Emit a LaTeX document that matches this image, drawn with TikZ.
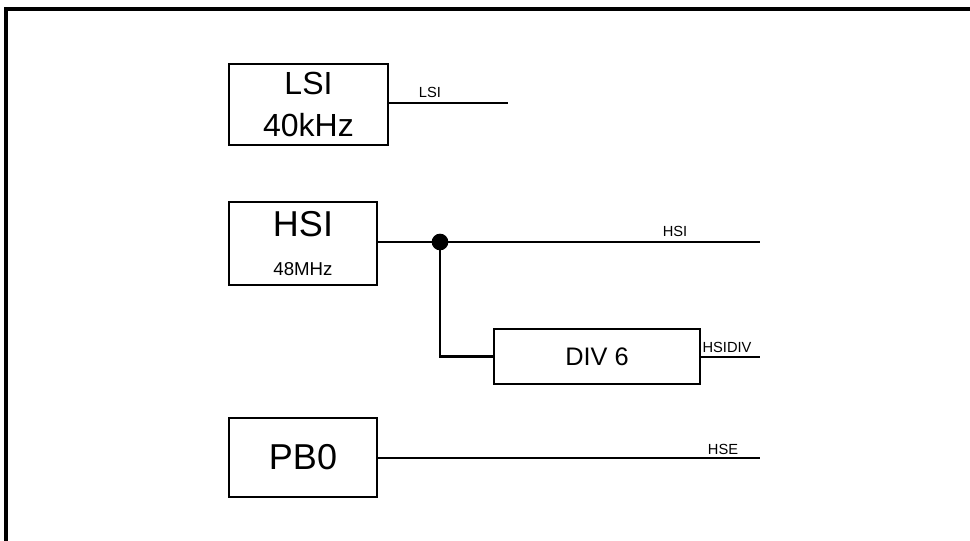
\documentclass[tikz,border=0pt]{standalone}
\usepackage{fontspec}
\setmainfont{Liberation Sans}
\begin{document}
\begin{tikzpicture}[
    x=0.75pt, y=-0.75pt,
    box/.style={draw,line width=1.6pt,align=center,inner sep=0pt},
    wire/.style={line width=1.6pt},
    dot/.style={circle,fill,inner sep=0pt,minimum size=12.5pt},
    sig/.style={font=\fontsize{11}{13}\selectfont,anchor=base,inner sep=0pt}
]
\useasboundingbox (0,0) rectangle (970,541);
\draw[line width=3pt] (6,541) -- (6,9) -- (970,9);

% clock sources
\node[box,minimum width=119pt,minimum height=61pt,font=\fontsize{24}{32}\selectfont] (lsi) at (308.5,104.5) {LSI\\40kHz};
\node[box,minimum width=111pt,minimum height=62pt,font=\fontsize{27}{28}\selectfont] (hsi) at (303,243.5) {HSI\\[1pt]{\fontsize{14}{16}\selectfont 48MHz}};
\node[box,minimum width=154.5pt,minimum height=41pt,font=\fontsize{19}{22}\selectfont] (div) at (597,356.5) {DIV 6};
\node[box,minimum width=111pt,minimum height=59pt,font=\fontsize{27}{30}\selectfont] (pb0) at (303,457.5) {PB0};

\node[dot] (tap) at (440,242) {};
\coordinate (lsiout) at (508,103);
\coordinate (hsiout) at (760,242);
\coordinate (divout) at (760,357);
\coordinate (hseout) at (760,458);

\draw[wire] (lsi.east |- lsiout) -- (lsiout);
\draw[wire] (hsi.east |- hsiout) -- (hsiout);
\draw[wire] (tap.center) |- (div.west);
\draw[wire] (div.east |- divout) -- (divout);
\draw[wire] (pb0.east |- hseout) -- (hseout);

% signal names
\node[sig] (lsilbl) at (430,98) {LSI};
\node[sig] (hsilbl) at (675,237) {HSI};
\node[sig] (divlbl) at (727,352) {HSIDIV};
\node[sig] (hselbl) at (723,454) {HSE};
\end{tikzpicture}
\end{document}
